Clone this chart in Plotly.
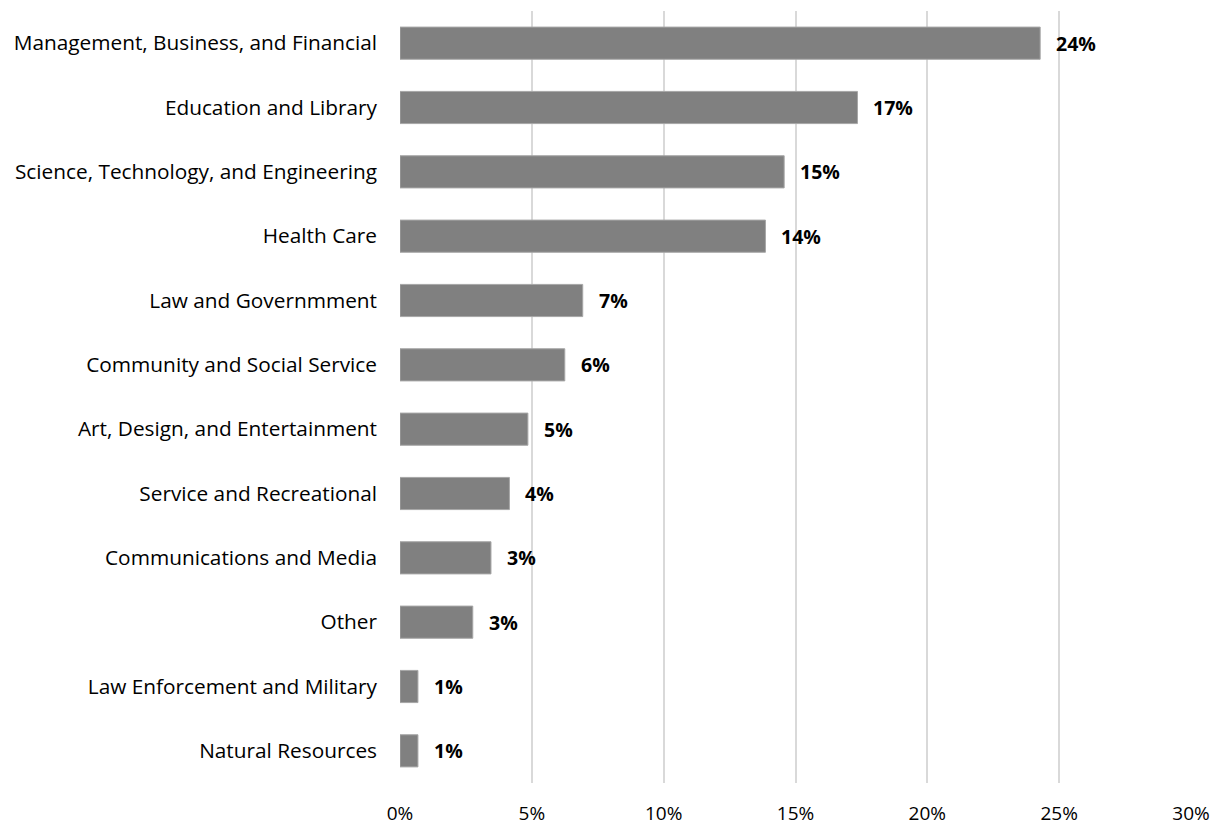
import plotly.graph_objects as go

categories = [
    "Management, Business, and Financial",
    "Education and Library",
    "Science, Technology, and Engineering",
    "Health Care",
    "Law and Governmment",
    "Community and Social Service",
    "Art, Design, and Entertainment",
    "Service and Recreational",
    "Communications and Media",
    "Other",
    "Law Enforcement and Military",
    "Natural Resources",
]
values = [24.28, 17.35, 14.57, 13.86, 6.93, 6.25, 4.85, 4.15, 3.45, 2.76, 0.68, 0.68]
tick_vals = [0, 5, 10, 15, 20, 25, 30]
tick_text = [f"{v}%" for v in tick_vals]

FONT = "Open Sans"

fig = go.Figure()
fig.add_trace(go.Bar(
    y=categories,
    x=values,
    orientation="h",
    marker=dict(color="#808080", line=dict(color="#a6a6a6", width=1)),
    hoverinfo="skip",
))

for c, v in zip(categories, values):
    fig.add_annotation(
        x=v, y=c, text=f"<b>{round(v):.0f}%</b>", showarrow=False,
        xanchor="left", yanchor="middle", xshift=14,
        font=dict(family=FONT, size=19.5, color="#000000"),
    )

fig.update_layout(
    width=1220, height=825,
    margin=dict(l=392, r=37, t=3, b=50),
    paper_bgcolor="white", plot_bgcolor="white",
    bargap=0.5,
    showlegend=False,
    font=dict(family=FONT, size=19, color="#000000"),
    xaxis=dict(
        range=[0, 30], tickvals=tick_vals, ticktext=tick_text,
        showgrid=True, gridcolor="#d9d9d9", gridwidth=1.5,
        zeroline=False, showline=False, ticks="",
        ticklabelstandoff=17, automargin=False,
        tickfont=dict(family=FONT, size=19, color="#000000"),
    ),
    yaxis=dict(
        autorange="reversed", showgrid=False, showline=False, ticks="",
        ticklabelstandoff=22, automargin=False,
        tickfont=dict(family=FONT, size=20.8, color="#000000"),
    ),
)

fig.write_html("out.html")
